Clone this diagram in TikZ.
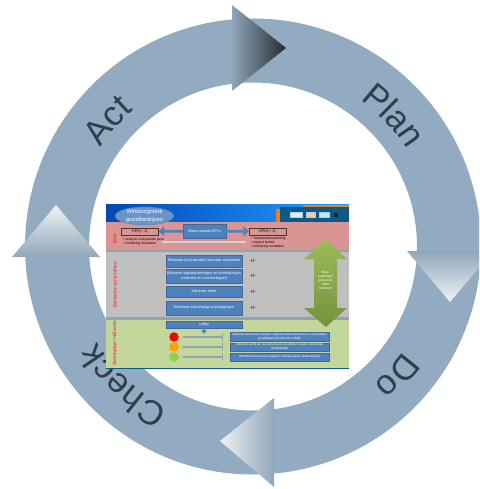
\documentclass[tikz,border=0pt]{standalone}
\usepackage{fontspec}
\setmainfont{Liberation Sans}
\usetikzlibrary{arrows.meta,decorations.text,shapes.geometric}
\definecolor{ringblue}{HTML}{92ABC0}
\definecolor{ringtext}{HTML}{2F3E4E}
\definecolor{panelblue}{HTML}{4F81BD}
\definecolor{panelpink}{HTML}{DB9494}
\definecolor{panelgrey}{HTML}{BFBFBF}
\definecolor{panelgreen}{HTML}{C3D69B}
\definecolor{panelred}{HTML}{F23C3C}
\definecolor{headblue}{HTML}{0D5A8A}
\definecolor{headorange}{HTML}{E8821E}
\definecolor{linegrey}{HTML}{8EA4B0}
\definecolor{arrowtop}{HTML}{9BBB59}
\definecolor{arrowbottom}{HTML}{76923C}
\tikzset{
    x=0.02cm, y=-0.02cm,
    ringlabel/.style={decorate, decoration={text along path, text align=center,
        text={|\fontsize{19.8}{20}\selectfont\color{ringtext}|#1}}},
    bluebox/.style={fill=panelblue, draw=panelblue!80!black, line width=0.2pt, inner sep=0pt,
        text=white, align=center, font=\fontsize{2.1}{2.7}\selectfont},
    uitbox/.style={bluebox, minimum width=99*0.02cm, font=\fontsize{1.8}{2.3}\selectfont},
    kpibox/.style={draw=black!65!panelpink, line width=0.4pt, inner sep=0pt,
        minimum width=37*0.02cm, minimum height=7*0.02cm,
        font=\fontsize{2.2}{2.6}\selectfont},
    smalltext/.style={inner sep=0pt, align=left, font=\fontsize{1.9}{2.2}\selectfont},
    redlabel/.style={rotate=90, inner sep=0pt, text=panelred, font=\bfseries\fontsize{2.7}{4}\selectfont},
    plusminus/.style={inner sep=0pt, font=\fontsize{2.8}{3}\selectfont},
    kpiarrow/.style={draw=panelblue, line width=1.6pt, {Triangle[width=5.6pt,length=3pt]}-},
    light/.style={circle, minimum size=9.5*0.02cm, inner sep=0pt},
    lightline/.style={draw=linegrey, line width=0.6pt, shorten <=3.5*0.02cm, -{Bar[width=4.5pt]}},
    iconbox/.style={fill=#1, draw=white!70!headblue, line width=0.2pt, inner sep=0pt}
}
\begin{document}
\begin{tikzpicture}
    \useasboundingbox (0,0) rectangle (479,489);
    \clip (0,0) rectangle (479,489);
    \coordinate (ringc) at (253,246.5);
    % ring
    \fill[ringblue, even odd rule] (ringc) circle[radius=228] (ringc) circle[radius=164];
    \path[ringlabel=Plan] (ringc) ++(-71:182) arc[start angle=-71, end angle=-15, radius=182];
    \path[ringlabel=Do] (ringc) ++(14:183) arc[start angle=14, end angle=70, radius=183];
    \path[ringlabel=Check] (ringc) ++(98:183) arc[start angle=98, end angle=168, radius=183];
    \path[ringlabel=Act] (ringc) ++(193:181) arc[start angle=193, end angle=249, radius=181];
    % arrow heads
    \shade[left color=ringblue!90!gray, right color=black!75!ringblue] (232,5) -- (286,48) -- (232,91) -- cycle;
    \shade[top color=ringblue!90!gray, bottom color=white!85!ringblue] (407,251) -- (493,251) -- (450,302) -- cycle;
    \shade[right color=ringblue!90!gray, left color=white!85!ringblue] (274,398) -- (274,487) -- (220,441) -- cycle;
    \shade[bottom color=ringblue!90!gray, top color=white!85!ringblue] (12,257) -- (100,257) -- (56,205) -- cycle;
    % panel
    \shade[left color=blue!60!cyan!70!black, right color=cyan!55!blue!85!white] (106,205) rectangle (349,222);
    \fill[panelpink] (106,222) rectangle (349,250);
    \fill[linegrey] (106,250) rectangle (349,252);
    \fill[panelgrey] (106,252) rectangle (349,317);
    \fill[linegrey] (106,317) rectangle (349,320);
    \fill[panelgreen] (106,320) rectangle (349,368);
    \fill[headblue] (106,368) rectangle (349,369);
    % header
    \fill[headorange] (303,205) rectangle (349,207);
    \fill[headorange] (276,209) rectangle (280,222);
    \fill[headblue] (280,207) rectangle (349,222);
    \node[ellipse, fill=panelblue!85!white, draw=panelblue, line width=0.2pt, minimum width=59*0.02cm, minimum height=18*0.02cm,
        inner sep=0pt, text=white, align=center, font=\fontsize{3.2}{4.2}\selectfont] (title) at (144.5,216) {Winstoogmerk\\grondbedrijven};
    \node[iconbox=cyan!15!white, minimum width=12*0.02cm, minimum height=5*0.02cm] (icona) at (296,214.5) {};
    \node[iconbox=orange!40!white, minimum width=9*0.02cm, minimum height=5*0.02cm] (iconb) at (310.5,214.5) {};
    \node[iconbox=cyan!25!white, minimum width=10*0.02cm, minimum height=5*0.02cm] (iconc) at (324,214.5) {};
    \node[fill=black!60!headblue, inner sep=0pt, minimum width=4*0.02cm, minimum height=4*0.02cm] (icond) at (336,214.5) {};
    % pink band
    \node[redlabel] (ibw) at (115,239) {IBW};
    \node[bluebox, minimum width=43*0.02cm, minimum height=14*0.02cm] (kpi) at (204.5,231) {Meest actuele KPI's};
    \node[kpibox] (kpiprev) at (140,231.5) {KPI(t - 1)};
    \node[kpibox] (kpinext) at (267.5,231.5) {KPI(t + 1)};
    \draw[kpiarrow] (kpiprev) -- (kpi);
    \draw[kpiarrow] (kpinext) -- (kpi);
    \coordinate (barl) at (162,242);
    \coordinate (barr) at (246,242);
    \draw[panelgrey!70!white, line width=0.8pt] (barl) -- (barr);
    \node[smalltext, anchor=north west] (prevnote) at (123,238) {• Analyse voorgaande jaren\\• Verklaring resultaten};
    \node[smalltext, anchor=north west] (nextnote) at (251,236.5) {• Toekomstverwachting\\• Ingezet beleid\\• Verklaring resultaten};
    % grey band
    \node[redlabel] (evident) at (115,285) {Evidente verschillen};
    \node[bluebox, minimum width=76*0.02cm, minimum height=12*0.02cm] (elima) at (204,261) {Elimineer (coördinatief) incentive activiteiten};
    \node[bluebox, minimum width=76*0.02cm, minimum height=14*0.02cm] (elimb) at (204,276) {Elimineer kapitaalstortingen en onttrekkingen\\(reserves en voorzieningen)};
    \node[bluebox, minimum width=76*0.02cm, minimum height=11*0.02cm] (elimc) at (204,291.5) {Elimineer rente};
    \node[bluebox, minimum width=76*0.02cm, minimum height=14*0.02cm] (elimd) at (204,308) {Elimineer toekomstige prijsstijgingen};
    \node[plusminus] (pma) at (253,261) {+/-};
    \node[plusminus] (pmb) at (253,276) {+/-};
    \node[plusminus] (pmc) at (253,291.5) {+/-};
    \node[plusminus] (pmd) at (253,308) {+/-};
    % green arrow
    \shade[top color=arrowtop, bottom color=arrowbottom]
        (326,239) -- (347,259) -- (337,259) -- (337,308) -- (347,308) -- (326,327)
        -- (304,308) -- (314,308) -- (314,259) -- (304,259) -- cycle;
    \node[inner sep=0pt, text=white, align=center, font=\fontsize{1.9}{2.3}\selectfont] (arrowtext) at (325.5,280) {Naar\\maatregel\\passende\\reële\\hanteren};
    % green band
    \node[redlabel] (indicatie) at (115,343.5) {Voorlopige indicatie};
    \node[bluebox, minimum width=76*0.02cm, minimum height=7.5*0.02cm] (uitleg) at (204,324.5) {Uitleg};
    \coordinate (uitlegend) at (204,334);
    \draw[draw=panelblue, line width=1pt, -{Triangle[width=3pt,length=2pt]}] (uitleg) -- (uitlegend);
    \node[light, fill=red] (lred) at (174,337) {};
    \node[light, fill=orange!75!yellow] (lorange) at (174,347) {};
    \node[light, fill={rgb,255:red,146;green,208;blue,80}] (lgreen) at (174,357) {};
    \coordinate (endred) at (223,337);
    \coordinate (endorange) at (223,347);
    \coordinate (endgreen) at (223,357);
    \draw[lightline] (lred) -- (endred);
    \draw[lightline] (lorange) -- (endorange);
    \draw[lightline] (lgreen) -- (endgreen);
    \node[uitbox, minimum height=9*0.02cm] (uita) at (279.5,336.5) {Uitkomst structureel positief: beperkt het resultaat voor a-periodieke\\grondslag indicatief als redelijk};
    \node[uitbox, minimum height=8*0.02cm] (uitb) at (279.5,347) {Uitkomst wordt de niet-structurele resultaten: nader onderzoek\\noodzakelijk};
    \node[uitbox, minimum height=8*0.02cm] (uitc) at (279.5,357) {Uitkomst structureel negatief: indicatie geen onderzoeking};
\end{tikzpicture}
\end{document}
